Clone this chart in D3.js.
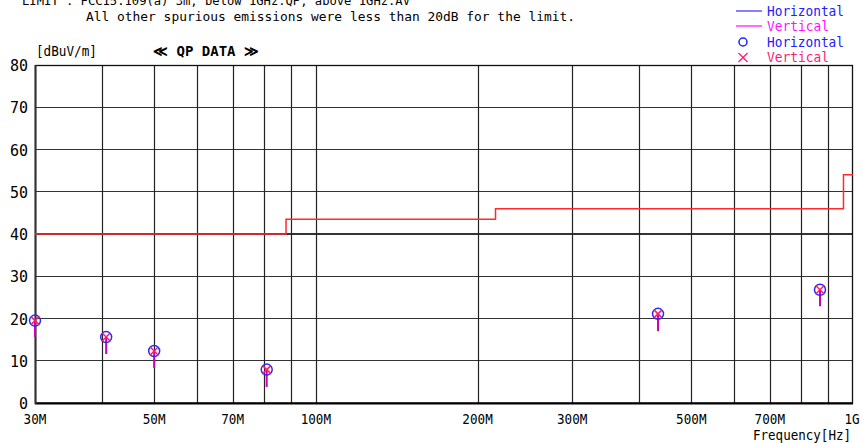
<!DOCTYPE html>
<html><head><meta charset="utf-8">
<script src="https://cdn.jsdelivr.net/npm/d3@7"></script>
<style>body{margin:0;background:#fff}svg{display:block}</style>
</head><body>
<script>
// ---- data ----
const freqMHz = [30.0, 40.7, 50.0, 81.0, 433.5, 868.0];
const qpLevel = [19.5, 15.6, 12.3, 7.9, 21.1, 26.8];
const stickLow = [15.6, 11.6, 8.3, 3.8, 17.0, 22.9];
const limitFreq = [30, 88, 216, 960, 1000];
const limitLevel = [40, 43.5, 46, 54, 54];
const gridFreq = [40, 50, 60, 70, 80, 90, 100, 200, 300, 400, 500, 600, 700, 800, 900];
const tickFreq = [30, 50, 70, 100, 200, 300, 500, 700, 1000];
const tickLabels = ["30M", "50M", "70M", "100M", "200M", "300M", "500M", "700M", "1G"];
const yTicks = [0, 10, 20, 30, 40, 50, 60, 70, 80];

const W = 863, H = 443;
const svg = d3.select("body").append("svg").attr("width", W).attr("height", H);
const x = d3.scaleLog().domain([30, 1000]).range([35, 853]);
const y = d3.scaleLinear().domain([0, 80]).range([403, 65]);
const mono = "'DejaVu Sans Mono', 'Liberation Mono', monospace";

// header text
svg.append("text").attr("x", 22).attr("y", 5).attr("font-family", mono).attr("font-size", 13)
  .attr("textLength", 388).attr("lengthAdjust", "spacingAndGlyphs")
  .text("LIMIT : FCC15.109(a) 3m, below 1GHz:QP, above 1GHz:AV");
svg.append("text").attr("x", 86).attr("y", 21).attr("font-family", mono).attr("font-size", 13)
  .attr("textLength", 489).attr("lengthAdjust", "spacingAndGlyphs")
  .text("All other spurious emissions were less than 20dB for the limit.");

// grid
const g = svg.append("g");
g.selectAll("line.h").data(yTicks.filter(d => d > 0 && d < 80)).join("line")
  .attr("x1", x(30)).attr("x2", x(1000)).attr("y1", d => y(d)).attr("y2", d => y(d))
  .attr("stroke", "#333").attr("stroke-width", 1.2).attr("shape-rendering", "crispEdges");
g.selectAll("line.v").data(gridFreq).join("line")
  .attr("x1", d => Math.round(x(d)) + 0.5).attr("x2", d => Math.round(x(d)) + 0.5)
  .attr("y1", y(0)).attr("y2", y(80))
  .attr("stroke", "#222").attr("stroke-width", 1.2);
// frame
svg.append("rect").attr("x", 35.5).attr("y", 65.5).attr("width", 817).attr("height", 337.5)
  .attr("fill", "none").attr("stroke", "#111").attr("stroke-width", 1.3);
svg.append("line").attr("x1", 35).attr("x2", 853).attr("y1", 403.5).attr("y2", 403.5)
  .attr("stroke", "#000").attr("stroke-width", 2);
svg.append("line").attr("x1", 35.5).attr("x2", 35.5).attr("y1", 65).attr("y2", 404)
  .attr("stroke", "#333").attr("stroke-width", 2);

// y axis labels
svg.selectAll("text.yt").data(yTicks).join("text")
  .attr("x", 28).attr("y", d => y(d) + 6).attr("text-anchor", "end")
  .attr("font-family", mono).attr("font-size", 15).text(d => d);
// x axis labels
svg.selectAll("text.xt").data(tickFreq).join("text")
  .attr("x", (d, i) => i === tickFreq.length - 1 ? x(d) - 1 : x(d)).attr("y", 424)
  .attr("text-anchor", "middle").attr("font-family", mono).attr("font-size", 14)
  .attr("textLength", (d, i) => tickLabels[i].length * 7.6).attr("lengthAdjust", "spacingAndGlyphs")
  .text((d, i) => tickLabels[i]);
svg.append("text").attr("x", 851).attr("y", 440).attr("text-anchor", "end")
  .attr("font-family", mono).attr("font-size", 14).attr("textLength", 98).attr("lengthAdjust", "spacingAndGlyphs")
  .text("Frequency[Hz]");
svg.append("text").attr("x", 36).attr("y", 56).attr("font-family", mono).attr("font-size", 14)
  .attr("textLength", 61).attr("lengthAdjust", "spacingAndGlyphs").text("[dBuV/m]");
svg.append("text").attr("x", 153).attr("y", 56).attr("font-family", mono).attr("font-size", 14)
  .attr("font-weight", "bold").attr("textLength", 106).attr("lengthAdjust", "spacingAndGlyphs")
  .text("\u226A QP DATA \u226B");

// limit line
const limitPts = limitFreq.map((f, i) => [f, limitLevel[i]]);
svg.append("path").datum(limitPts)
  .attr("d", d3.line().x(d => x(d[0])).y(d => y(d[1])).curve(d3.curveStepAfter))
  .attr("fill", "none").attr("stroke", "#ff2a2a").attr("stroke-width", 1.5);

// data points
const pts = freqMHz.map((f, i) => ({f, v: qpLevel[i], lo: stickLow[i]}));
const pg = svg.append("g");
pg.selectAll("line.stick").data(pts).join("line")
  .attr("x1", d => x(d.f)).attr("x2", d => x(d.f)).attr("y1", d => y(d.v)).attr("y2", d => y(d.lo))
  .attr("stroke", "#d000b0").attr("stroke-width", 2);
pg.selectAll("circle").data(pts).join("circle")
  .attr("cx", d => x(d.f)).attr("cy", d => y(d.v)).attr("r", 5.5)
  .attr("fill", "none").attr("stroke", "#2a2aff").attr("stroke-width", 1.5);
const cross = 4;
pg.selectAll("path.x").data(pts).join("path")
  .attr("d", d => `M${x(d.f)-cross},${y(d.v)-cross}L${x(d.f)+cross},${y(d.v)+cross}M${x(d.f)-cross},${y(d.v)+cross}L${x(d.f)+cross},${y(d.v)-cross}`)
  .attr("stroke", "#ff1a6e").attr("stroke-width", 1.5).attr("fill", "none");

// legend
const lg = svg.append("g").attr("font-family", mono).attr("font-size", 14);
lg.append("line").attr("x1", 736).attr("x2", 762).attr("y1", 11).attr("y2", 11).attr("stroke", "#4040ff").attr("stroke-width", 1.3);
lg.append("text").attr("x", 767).attr("y", 16).attr("fill", "#2020ff").attr("textLength", 77).attr("lengthAdjust", "spacingAndGlyphs").text("Horizontal");
lg.append("line").attr("x1", 736).attr("x2", 762).attr("y1", 26).attr("y2", 26).attr("stroke", "#ff20ff").attr("stroke-width", 1.3);
lg.append("text").attr("x", 767).attr("y", 31).attr("fill", "#ff10ff").attr("textLength", 62).attr("lengthAdjust", "spacingAndGlyphs").text("Vertical");
lg.append("circle").attr("cx", 743).attr("cy", 42).attr("r", 4).attr("fill", "none").attr("stroke", "#2020ff").attr("stroke-width", 1.5);
lg.append("text").attr("x", 767).attr("y", 47).attr("fill", "#2020ff").attr("textLength", 77).attr("lengthAdjust", "spacingAndGlyphs").text("Horizontal");
lg.append("path").attr("d", "M738.5,53L747.5,62M738.5,62L747.5,53").attr("stroke", "#ff2070").attr("stroke-width", 1.3);
lg.append("text").attr("x", 767).attr("y", 62).attr("fill", "#ff1a75").attr("textLength", 62).attr("lengthAdjust", "spacingAndGlyphs").text("Vertical");
</script>
</body></html>
